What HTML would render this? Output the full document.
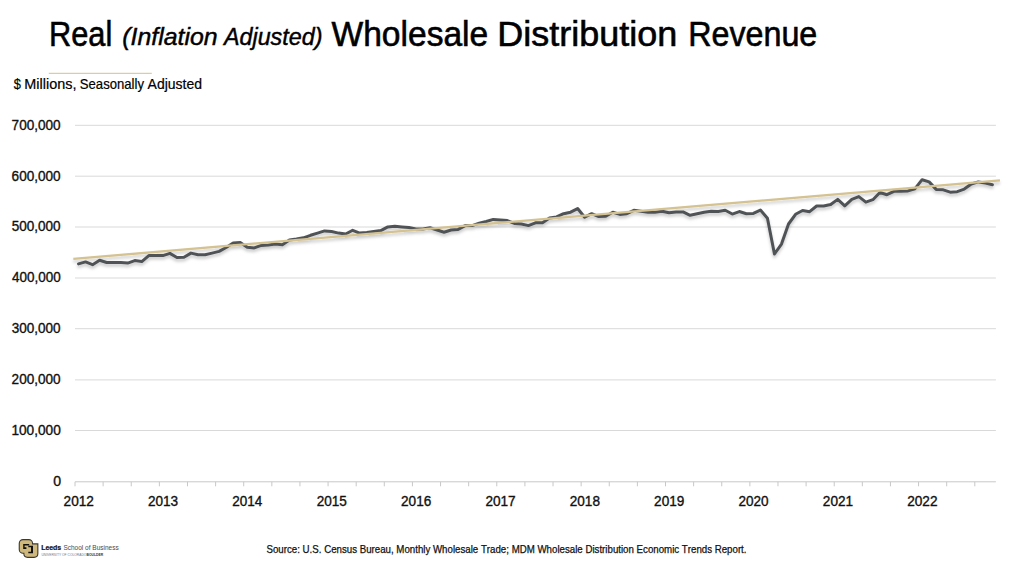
<!DOCTYPE html>
<html><head><meta charset="utf-8"><style>
html,body{margin:0;padding:0;background:#fff;}
body{width:1024px;height:571px;overflow:hidden;}
svg{display:block;}
text{font-family:"Liberation Sans",sans-serif;font-kerning:none;}
.g{stroke:#d9d9d9;stroke-width:1;}
.ax{stroke:#c8c8c8;stroke-width:1;}
.yl{font-size:14px;fill:#111;stroke:#111;stroke-width:0.35px;}
.xl{font-size:14px;fill:#111;stroke:#111;stroke-width:0.35px;}
</style></head><body>
<svg width="1024" height="571" viewBox="0 0 1024 571">
<defs>
<filter id="sh" x="-5%" y="-20%" width="110%" height="160%">
<feDropShadow dx="0" dy="2.5" stdDeviation="1.6" flood-color="#000" flood-opacity="0.22"/>
</filter>
</defs>
<rect width="1024" height="571" fill="#fff"/>
<!-- title -->
<text x="48.98" y="45.70" style="font-size:34.50px;fill:#000;stroke:#000;stroke-width:0.60px" textLength="63.28" lengthAdjust="spacingAndGlyphs">Real</text>
<text x="331.55" y="45.70" style="font-size:34.50px;fill:#000;stroke:#000;stroke-width:0.60px" textLength="156.64" lengthAdjust="spacingAndGlyphs">Wholesale</text>
<text x="497.35" y="45.70" style="font-size:34.50px;fill:#000;stroke:#000;stroke-width:0.60px" textLength="179.89" lengthAdjust="spacingAndGlyphs">Distribution</text>
<text x="688.15" y="45.70" style="font-size:34.50px;fill:#000;stroke:#000;stroke-width:0.60px" textLength="129.18" lengthAdjust="spacingAndGlyphs">Revenue</text>
<text x="122.26" y="45.20" style="font-size:24.50px;font-style:italic;fill:#000;stroke:#000;stroke-width:0.45px" textLength="95.34" lengthAdjust="spacingAndGlyphs">(Inflation</text>
<text x="223.97" y="45.20" style="font-size:24.50px;font-style:italic;fill:#000;stroke:#000;stroke-width:0.45px" textLength="98.49" lengthAdjust="spacingAndGlyphs">Adjusted)</text>

<line x1="48.8" y1="73.4" x2="151.8" y2="73.4" stroke="#dacda6" stroke-width="1.1"/>
<text x="13.86" y="88.70" style="font-size:14.20px;fill:#000;stroke:#000;stroke-width:0.20px" textLength="7.15" lengthAdjust="spacingAndGlyphs">$</text>
<text x="24.32" y="88.70" style="font-size:14.20px;fill:#000;stroke:#000;stroke-width:0.20px" textLength="52.08" lengthAdjust="spacingAndGlyphs">Millions,</text>
<text x="79.80" y="88.70" style="font-size:14.20px;fill:#000;stroke:#000;stroke-width:0.20px" textLength="64.22" lengthAdjust="spacingAndGlyphs">Seasonally</text>
<text x="147.57" y="88.70" style="font-size:14.20px;fill:#000;stroke:#000;stroke-width:0.20px" textLength="54.43" lengthAdjust="spacingAndGlyphs">Adjusted</text>

<line x1="75.0" y1="430.50" x2="995.9" y2="430.50" class="g"/>
<line x1="75.0" y1="379.90" x2="995.9" y2="379.90" class="g"/>
<line x1="75.0" y1="328.70" x2="995.9" y2="328.70" class="g"/>
<line x1="75.0" y1="278.00" x2="995.9" y2="278.00" class="g"/>
<line x1="75.0" y1="227.00" x2="995.9" y2="227.00" class="g"/>
<line x1="75.0" y1="176.20" x2="995.9" y2="176.20" class="g"/>
<line x1="75.0" y1="125.30" x2="995.9" y2="125.30" class="g"/>

<line x1="75.0" y1="481.8" x2="995.9" y2="481.8" class="ax"/>
<line x1="75.00" y1="481.8" x2="75.00" y2="486.3" class="ax"/>
<line x1="103.12" y1="481.8" x2="103.12" y2="486.3" class="ax"/>
<line x1="131.24" y1="481.8" x2="131.24" y2="486.3" class="ax"/>
<line x1="159.36" y1="481.8" x2="159.36" y2="486.3" class="ax"/>
<line x1="187.48" y1="481.8" x2="187.48" y2="486.3" class="ax"/>
<line x1="215.60" y1="481.8" x2="215.60" y2="486.3" class="ax"/>
<line x1="243.71" y1="481.8" x2="243.71" y2="486.3" class="ax"/>
<line x1="271.83" y1="481.8" x2="271.83" y2="486.3" class="ax"/>
<line x1="299.95" y1="481.8" x2="299.95" y2="486.3" class="ax"/>
<line x1="328.07" y1="481.8" x2="328.07" y2="486.3" class="ax"/>
<line x1="356.19" y1="481.8" x2="356.19" y2="486.3" class="ax"/>
<line x1="384.31" y1="481.8" x2="384.31" y2="486.3" class="ax"/>
<line x1="412.43" y1="481.8" x2="412.43" y2="486.3" class="ax"/>
<line x1="440.55" y1="481.8" x2="440.55" y2="486.3" class="ax"/>
<line x1="468.67" y1="481.8" x2="468.67" y2="486.3" class="ax"/>
<line x1="496.79" y1="481.8" x2="496.79" y2="486.3" class="ax"/>
<line x1="524.91" y1="481.8" x2="524.91" y2="486.3" class="ax"/>
<line x1="553.02" y1="481.8" x2="553.02" y2="486.3" class="ax"/>
<line x1="581.14" y1="481.8" x2="581.14" y2="486.3" class="ax"/>
<line x1="609.26" y1="481.8" x2="609.26" y2="486.3" class="ax"/>
<line x1="637.38" y1="481.8" x2="637.38" y2="486.3" class="ax"/>
<line x1="665.50" y1="481.8" x2="665.50" y2="486.3" class="ax"/>
<line x1="693.62" y1="481.8" x2="693.62" y2="486.3" class="ax"/>
<line x1="721.74" y1="481.8" x2="721.74" y2="486.3" class="ax"/>
<line x1="749.86" y1="481.8" x2="749.86" y2="486.3" class="ax"/>
<line x1="777.98" y1="481.8" x2="777.98" y2="486.3" class="ax"/>
<line x1="806.10" y1="481.8" x2="806.10" y2="486.3" class="ax"/>
<line x1="834.22" y1="481.8" x2="834.22" y2="486.3" class="ax"/>
<line x1="862.33" y1="481.8" x2="862.33" y2="486.3" class="ax"/>
<line x1="890.45" y1="481.8" x2="890.45" y2="486.3" class="ax"/>
<line x1="918.57" y1="481.8" x2="918.57" y2="486.3" class="ax"/>
<line x1="946.69" y1="481.8" x2="946.69" y2="486.3" class="ax"/>
<line x1="974.81" y1="481.8" x2="974.81" y2="486.3" class="ax"/>

<text x="53.22" y="486.20" style="font-size:14.00px;fill:#111;stroke:#111;stroke-width:0.35px" textLength="7.85" lengthAdjust="spacingAndGlyphs">0</text>
<text x="11.44" y="434.90" style="font-size:14.00px;fill:#111;stroke:#111;stroke-width:0.35px" textLength="49.32" lengthAdjust="spacingAndGlyphs">100,000</text>
<text x="11.59" y="384.30" style="font-size:14.00px;fill:#111;stroke:#111;stroke-width:0.35px" textLength="49.06" lengthAdjust="spacingAndGlyphs">200,000</text>
<text x="11.76" y="333.10" style="font-size:14.00px;fill:#111;stroke:#111;stroke-width:0.35px" textLength="48.89" lengthAdjust="spacingAndGlyphs">300,000</text>
<text x="11.97" y="282.40" style="font-size:14.00px;fill:#111;stroke:#111;stroke-width:0.35px" textLength="48.69" lengthAdjust="spacingAndGlyphs">400,000</text>
<text x="11.73" y="231.40" style="font-size:14.00px;fill:#111;stroke:#111;stroke-width:0.35px" textLength="48.92" lengthAdjust="spacingAndGlyphs">500,000</text>
<text x="11.59" y="180.60" style="font-size:14.00px;fill:#111;stroke:#111;stroke-width:0.35px" textLength="49.07" lengthAdjust="spacingAndGlyphs">600,000</text>
<text x="11.58" y="129.70" style="font-size:14.00px;fill:#111;stroke:#111;stroke-width:0.35px" textLength="49.08" lengthAdjust="spacingAndGlyphs">700,000</text>

<text x="63.60" y="505.80" style="font-size:14.00px;fill:#111;stroke:#111;stroke-width:0.35px" textLength="30.32" lengthAdjust="spacingAndGlyphs">2012</text>
<text x="147.96" y="505.80" style="font-size:14.00px;fill:#111;stroke:#111;stroke-width:0.35px" textLength="30.23" lengthAdjust="spacingAndGlyphs">2013</text>
<text x="232.33" y="505.80" style="font-size:14.00px;fill:#111;stroke:#111;stroke-width:0.35px" textLength="30.02" lengthAdjust="spacingAndGlyphs">2014</text>
<text x="316.68" y="505.80" style="font-size:14.00px;fill:#111;stroke:#111;stroke-width:0.35px" textLength="30.20" lengthAdjust="spacingAndGlyphs">2015</text>
<text x="401.04" y="505.80" style="font-size:14.00px;fill:#111;stroke:#111;stroke-width:0.35px" textLength="30.23" lengthAdjust="spacingAndGlyphs">2016</text>
<text x="485.39" y="505.80" style="font-size:14.00px;fill:#111;stroke:#111;stroke-width:0.35px" textLength="30.32" lengthAdjust="spacingAndGlyphs">2017</text>
<text x="569.75" y="505.80" style="font-size:14.00px;fill:#111;stroke:#111;stroke-width:0.35px" textLength="30.22" lengthAdjust="spacingAndGlyphs">2018</text>
<text x="654.11" y="505.80" style="font-size:14.00px;fill:#111;stroke:#111;stroke-width:0.35px" textLength="30.28" lengthAdjust="spacingAndGlyphs">2019</text>
<text x="738.47" y="505.80" style="font-size:14.00px;fill:#111;stroke:#111;stroke-width:0.35px" textLength="30.16" lengthAdjust="spacingAndGlyphs">2020</text>
<text x="822.82" y="505.80" style="font-size:14.00px;fill:#111;stroke:#111;stroke-width:0.35px" textLength="30.30" lengthAdjust="spacingAndGlyphs">2021</text>
<text x="907.18" y="505.80" style="font-size:14.00px;fill:#111;stroke:#111;stroke-width:0.35px" textLength="30.32" lengthAdjust="spacingAndGlyphs">2022</text>

<g filter="url(#sh)">
<polyline points="78.51,263.90 85.54,261.90 92.57,264.70 99.60,260.20 106.63,262.50 113.66,262.50 120.69,262.50 127.72,263.10 134.75,260.60 141.78,261.55 148.81,255.60 155.84,255.60 162.87,255.60 169.90,253.40 176.93,257.50 183.96,257.20 190.99,253.10 198.02,254.70 205.05,254.70 212.08,253.10 219.11,251.40 226.14,247.50 233.17,243.10 240.20,242.50 247.23,247.20 254.26,247.90 261.29,245.40 268.32,245.00 275.35,244.05 282.38,244.70 289.41,240.00 296.44,239.05 303.47,237.80 310.50,235.30 317.53,233.10 324.56,230.90 331.59,231.55 338.62,233.10 345.65,234.05 352.68,230.30 359.71,233.10 366.74,232.50 373.77,231.55 380.80,230.60 387.82,226.90 394.85,226.20 401.88,226.90 408.91,227.50 415.94,229.05 422.97,228.90 430.00,227.70 437.03,230.00 444.06,232.20 451.09,230.00 458.12,229.40 465.15,225.60 472.18,225.60 479.21,223.10 486.24,221.55 493.27,219.40 500.30,220.00 507.33,220.60 514.36,223.40 521.39,224.05 528.42,225.60 535.45,222.80 542.48,222.80 549.51,218.10 556.54,216.90 563.57,213.70 570.60,212.20 577.63,208.55 584.66,217.20 591.69,213.70 598.72,216.55 605.75,216.20 612.78,212.20 619.81,214.40 626.84,213.70 633.87,210.30 640.90,211.20 647.93,212.20 654.96,212.20 661.99,211.20 669.02,212.80 676.05,211.90 683.08,211.90 690.10,215.30 697.13,213.70 704.16,212.20 711.19,211.20 718.22,211.55 725.25,210.30 732.28,214.05 739.31,211.55 746.34,213.70 753.37,213.40 760.40,210.10 767.43,218.20 774.46,254.00 781.49,244.10 788.52,224.00 795.55,214.30 802.58,210.50 809.61,211.70 816.64,206.00 823.67,206.00 830.70,204.50 837.73,199.40 844.76,205.90 851.79,199.40 858.82,196.55 865.85,202.20 872.88,199.70 879.91,192.50 886.94,194.70 893.97,191.30 901.00,191.20 908.03,190.90 915.06,188.70 922.09,179.70 929.12,181.90 936.15,189.40 943.18,189.80 950.21,192.20 957.24,191.70 964.27,189.05 971.30,184.05 978.33,181.90 985.36,183.10 992.39,184.70" fill="none" stroke="#505356" stroke-width="3" stroke-linejoin="round" stroke-linecap="round"/>
<line x1="73.3" y1="258.96" x2="1000.0" y2="180.40" stroke="#d4c291" stroke-width="2.3" stroke-linecap="butt"/>
</g>
<!-- logo -->
<g>
<rect x="19.8" y="540.2" width="12.2" height="12.5" rx="3.2" fill="none" stroke="#3a3834" stroke-width="2.2"/>
<path d="M24.4 544.4 H37.3 V553.6 Q37.3 556.8 34.1 556.8 H27.6 Q24.4 556.8 24.4 553.6 Z" fill="none" stroke="#3a3834" stroke-width="2.2"/>
<rect x="19.8" y="540.2" width="12.2" height="12.5" rx="3.2" fill="#cfb87c"/>
<path d="M24.4 544.4 H37.3 V553.6 Q37.3 556.8 34.1 556.8 H27.6 Q24.4 556.8 24.4 553.6 Z" fill="#cfb87c"/>
<path d="M23.2 544.1 H29.2 V545.6 H24.6 V547.2 H26.4 V549.0 H23.2 Z" fill="#111"/>
<path d="M28.3 545.8 H33.0 V553.2 H28.3 V551.8 H31.0 V547.2 H28.3 Z" fill="#111"/>
</g>
<text x="41.2" y="549.7" style="font-size:6.8px;font-weight:bold;fill:#111;stroke:#111;stroke-width:0.2px" textLength="20" lengthAdjust="spacingAndGlyphs">Leeds</text>
<text x="63.4" y="549.7" style="font-size:6.8px;fill:#4a4a4a" textLength="55.3" lengthAdjust="spacingAndGlyphs">School of Business</text>
<text x="41.4" y="555.7" style="font-size:2.8px;fill:#777" textLength="45" lengthAdjust="spacingAndGlyphs">UNIVERSITY OF COLORADO</text>
<text x="86.6" y="555.7" style="font-size:2.8px;font-weight:bold;fill:#333" textLength="16.6" lengthAdjust="spacingAndGlyphs">BOULDER</text>
<text x="266.5" y="553.1" style="font-size:10.3px;fill:#111;stroke:#111;stroke-width:0.25px" textLength="480" lengthAdjust="spacingAndGlyphs">Source: U.S. Census Bureau, Monthly Wholesale Trade; MDM Wholesale Distribution Economic Trends Report.</text>
</svg>
</body></html>
